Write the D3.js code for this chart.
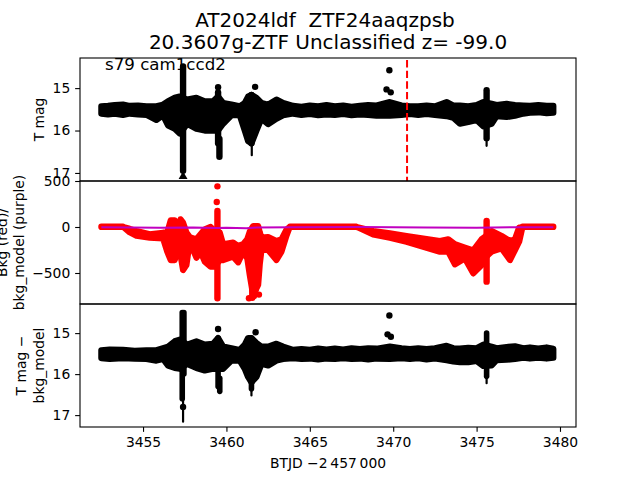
<!DOCTYPE html>
<html><head><meta charset="utf-8">
<script src="https://cdn.jsdelivr.net/npm/d3@7"></script>
<style>
html,body{margin:0;padding:0;background:#fff}
svg{display:block}
text{font-family:"DejaVu Sans",sans-serif;fill:#000;white-space:pre}
</style></head><body><div id="c"></div>
<script>
// ---- top panel: T mag
const magTimes=[3452.5,3452.9,3453.3,3453.8,3454.2,3454.7,3455.2,3455.8,3456.2,3456.5,3456.9,3457.2,3457.65,3458.2,3458.7,3459.2,3459.5,3459.8,3460.3,3460.8,3461.1,3461.3,3461.5,3461.8,3462.1,3462.5,3463,3463.4,3464,3464.5,3465,3465.5,3466,3466.5,3467,3467.5,3468,3468.5,3469,3469.8,3470.5,3471,3471.5,3472,3472.5,3473.2,3473.6,3474,3474.5,3475.0,3475.4,3475.9,3476.2,3476.8,3477.3,3477.8,3478.2,3478.7,3479.2,3479.6];
const magHigh=[15.43,15.42,15.40,15.39,15.42,15.41,15.43,15.43,15.39,15.31,15.23,15.20,15.27,15.23,15.31,15.31,15.20,15.35,15.39,15.43,15.35,15.20,15.16,15.23,15.35,15.39,15.27,15.35,15.42,15.44,15.41,15.43,15.40,15.43,15.41,15.44,15.42,15.40,15.41,15.33,15.41,15.43,15.43,15.41,15.43,15.33,15.41,15.41,15.43,15.40,15.33,15.37,15.40,15.37,15.40,15.41,15.42,15.40,15.42,15.42];
const magLow=[15.60,15.62,15.60,15.63,15.60,15.62,15.63,15.75,15.64,15.88,15.96,16.07,15.84,15.96,16.00,16.00,16.00,15.84,15.64,15.64,16.00,16.25,16.30,16.00,15.72,15.85,15.72,15.64,15.60,15.63,15.61,15.64,15.62,15.63,15.61,15.64,15.62,15.63,15.65,15.65,15.63,15.61,15.63,15.61,15.63,15.66,15.70,15.84,15.80,15.75,15.90,15.84,15.66,15.68,15.65,15.60,15.58,15.57,15.59,15.58];
const magSpikeTimes=[3457.4,3459.5,3459.58,3461.5,3475.6];
const magSpikeHigh=[14.49,15.10,16.20,15.16,15.05];
const magSpikeLow=[16.95,16.30,16.62,16.30,16.18];
const magTailTimes=[3457.4,3461.52,3475.6];
const magTailHigh=[16.6,16.2,16.1];
const magTailLow=[17.0,16.58,16.36];
const magDotTimes=[3459.5,3461.72,3469.77,3469.6,3469.85];
const magDotValues=[14.98,14.97,14.58,15.03,15.10];
const limitTimes=[3457.4];
const limitValues=[17.08];
const markerTime=[3470.83];
const markerRange=[14.34,17.19];

// ---- middle panel: background
const bkgTimes=[3452.5,3453.8,3454.2,3454.6,3455.4,3456.2,3456.45,3456.66,3456.9,3457.1,3457.25,3457.4,3457.6,3457.8,3458.2,3458.45,3458.7,3459.05,3459.3,3459.6,3459.8,3460.4,3460.7,3461,3461.25,3461.4,3461.6,3461.9,3462.0,3462.1,3462.5,3463,3463.3,3463.6,3463.8,3466.8,3467.8,3468.8,3469.8,3470.8,3472,3472.8,3473.3,3473.7,3474.3,3474.8,3475.3,3475.55,3475.7,3475.9,3476.5,3477,3477.3,3477.55,3477.75,3479.6];
const bkgHigh=[0,0,-20,-43,-80,-62,-60,72,72,-25,83,47,-60,-110,-134,-80,-25,0,-43,-60,-188,-170,-207,-188,-134,-50,11,11,-60,-116,-109,-152,-134,-30,0,0,0,-43,-70,-98,-130,-152,-134,-188,-225,-254,-134,-100,-60,-43,-98,-152,-134,-5,0,0];
const bkgLow=[3,3,-58,-94,-116,-123,-268,-359,-359,-214,-304,-467,-413,-160,-333,-268,-377,-431,-431,-359,-359,-322,-384,-268,-340,-522,-739,-630,-400,-250,-250,-359,-268,-94,3,3,3,-80,-116,-160,-225,-268,-268,-406,-341,-504,-413,-330,-300,-268,-232,-359,-250,-160,3,3];
const bkgSpikeTimes=[3459.46,3461.55,3461.75,3475.6];
const bkgSpikeHigh=[174,-400,-400,65];
const bkgSpikeLow=[-775,-770,-680,-594];
const bkgDotTimes=[3459.46,3459.42,3461.35,3461.65,3461.95];
const bkgDotValues=[442,272,-775,-750,-735];
const modelTimes=[3452.5,3456,3458,3459.4,3460,3461.2,3461.8,3464,3468,3472,3475,3477,3479.6];
const modelValues=[-2,-8,-5,-10,-8,-14,-6,-2,-1,-5,-8,-2,-2];

// ---- bottom panel: detrended magnitude
const detTimes=[3452.5,3453,3453.8,3454.5,3455.2,3455.8,3456.2,3456.5,3456.9,3457.2,3457.65,3458.2,3458.7,3459.2,3459.5,3459.8,3460.3,3460.8,3461.1,3461.3,3461.5,3461.8,3462.1,3462.5,3463,3463.4,3464,3464.5,3465,3465.5,3466,3466.5,3467,3467.5,3468,3468.5,3469,3469.8,3470.5,3471,3471.5,3472,3472.5,3473.2,3473.6,3474,3474.5,3475,3475.4,3475.9,3476.2,3476.8,3477.3,3477.8,3478.2,3478.7,3479.2,3479.6];
const detHigh=[15.42,15.40,15.41,15.43,15.42,15.42,15.37,15.33,15.20,15.16,15.28,15.20,15.28,15.26,15.12,15.33,15.37,15.41,15.28,15.12,15.12,15.24,15.33,15.33,15.26,15.33,15.41,15.39,15.41,15.38,15.40,15.38,15.40,15.37,15.39,15.37,15.38,15.33,15.37,15.39,15.37,15.39,15.37,15.31,15.37,15.38,15.36,15.37,15.28,15.33,15.37,15.34,15.32,15.37,15.35,15.38,15.35,15.38];
const detLow=[15.61,15.63,15.61,15.62,15.63,15.67,15.63,15.79,15.85,15.87,15.75,15.85,15.91,15.87,15.87,15.87,15.67,15.67,15.87,16.07,16.20,16.07,15.75,15.79,15.67,15.63,15.61,15.63,15.62,15.64,15.62,15.63,15.61,15.63,15.62,15.64,15.62,15.63,15.61,15.63,15.61,15.64,15.62,15.66,15.69,15.71,15.71,15.68,15.80,15.79,15.66,15.65,15.63,15.60,15.62,15.60,15.62,15.60];
const detSpikeTimes=[3457.35,3457.45,3459.5,3459.6,3461.5,3475.6];
const detSpikeHigh=[14.50,14.50,15.12,16.1,15.12,15.0];
const detSpikeLow=[16.60,16.0,16.30,16.42,16.36,16.05];
const detTailTimes=[3457.4,3461.5,3475.6];
const detTailHigh=[16.5,16.2,16.0];
const detTailLow=[17.16,16.52,16.22];
const detDotTimes=[3459.5,3461.75,3469.77,3469.66,3469.86,3457.4];
const detDotValues=[14.90,14.98,14.57,15.03,15.09,16.8];

// ---- axes and text
const xDomain=[3451.22,3480.96];
const xTicks=[3455,3460,3465,3470,3475,3480];
const magDomain=[14.29,17.19], magTicks=[15,16,17];
const bkgDomain=[500,-837], bkgTicks=[500,0,-500];
const detDomain=[14.29,17.29], detTicks=[15,16,17];
const titleLines=["AT2024ldf  ZTF24aaqzpsb","20.3607g-ZTF Unclassified z= -99.0"];
const note="s79 cam1ccd2";
const xLabel="BTJD \u22122\u2009457\u2009000";
const magLabel=["T mag"];
const bkgLabel=["Bkg (red)/","bkg_model (purple)"];
const detLabel=["T mag \u2212","bkg_model"];

const svg=d3.select("#c").append("svg").attr("width",640).attr("height",480);
const L=80,R=576;
const x=d3.scaleLinear().domain(xDomain).range([L,R]);
const panels=[{top:58,bot:181,dom:magDomain},{top:181,bot:304,dom:bkgDomain},{top:304,bot:427,dom:detDomain}];
panels.forEach(p=>p.y=d3.scaleLinear().domain(p.dom).range([p.top,p.bot]));
const defs=svg.append("defs");
panels.forEach((p,i)=>defs.append("clipPath").attr("id","cp"+i).append("rect").attr("x",L).attr("y",p.top).attr("width",R-L).attr("height",p.bot-p.top));

function band(i,ts,hi,lo,color){
  const g=svg.append("g").attr("clip-path",`url(#cp${i})`),y=panels[i].y;
  const area=d3.area().x(d=>x(ts[d])).y0(d=>y(lo[d])).y1(d=>y(hi[d]));
  g.append("path").attr("d",area(d3.range(ts.length))).attr("fill",color).attr("stroke",color).attr("stroke-width",6.2).attr("stroke-linejoin","round");
  return g;
}
function columns(g,i,ts,hi,lo,color,w){
  const y=panels[i].y;
  g.selectAll(null).data(ts).enter().append("line")
    .attr("x1",d=>x(d)).attr("x2",d=>x(d))
    .attr("y1",(d,k)=>y(hi[k])).attr("y2",(d,k)=>y(lo[k]))
    .attr("stroke",color).attr("stroke-width",w).attr("stroke-linecap","round");
}
function dots(g,i,ts,vs,color){
  const y=panels[i].y;
  g.selectAll(null).data(ts).enter().append("circle")
    .attr("cx",d=>x(d)).attr("cy",(d,k)=>y(vs[k])).attr("r",3.2).attr("fill",color);
}

const g0=band(0,magTimes,magHigh,magLow,"#000");
columns(g0,0,magSpikeTimes,magSpikeHigh,magSpikeLow,"#000",6.4);
columns(g0,0,magTailTimes,magTailHigh,magTailLow,"#000",2.2);
dots(g0,0,magDotTimes,magDotValues,"#000");
g0.selectAll(null).data(limitTimes).enter().append("path")
  .attr("d",d3.symbol(d3.symbolTriangle,34))
  .attr("transform",(d,k)=>`translate(${x(d)},${panels[0].y(limitValues[k])})`).attr("fill","#000");
g0.selectAll(null).data(markerTime).enter().append("line")
  .attr("x1",d=>x(d)).attr("x2",d=>x(d))
  .attr("y1",panels[0].y(markerRange[0])).attr("y2",panels[0].y(markerRange[1]))
  .attr("stroke","#f00").attr("stroke-width",2).attr("stroke-dasharray","7.4 3.2");

const g1=band(1,bkgTimes,bkgHigh,bkgLow,"#f00");
columns(g1,1,bkgSpikeTimes,bkgSpikeHigh,bkgSpikeLow,"#f00",6.4);
dots(g1,1,bkgDotTimes,bkgDotValues,"#f00");
g1.append("path").attr("d",d3.line().x((d,k)=>x(modelTimes[k])).y(d=>panels[1].y(d))(modelValues))
  .attr("fill","none").attr("stroke","#c000c0").attr("stroke-width",2);

const g2=band(2,detTimes,detHigh,detLow,"#000");
columns(g2,2,detSpikeTimes,detSpikeHigh,detSpikeLow,"#000",5.6);
columns(g2,2,detTailTimes,detTailHigh,detTailLow,"#000",2.2);
dots(g2,2,detDotTimes,detDotValues,"#000");

const fmt=d=>String(d).replace("-","\u2212");
function yaxis(i,ticks){
  const g=svg.append("g").attr("transform",`translate(${L},0)`)
    .call(d3.axisLeft(panels[i].y).tickValues(ticks).tickFormat(fmt).tickSize(4.86).tickPadding(4.9));
  g.select(".domain").remove();
  g.selectAll("line").attr("stroke","#000").attr("stroke-width",1.1);
  g.selectAll("text").attr("font-size",13.89).attr("font-family",'"DejaVu Sans"');
}
yaxis(0,magTicks);yaxis(1,bkgTicks);yaxis(2,detTicks);
const xa=svg.append("g").attr("transform",`translate(0,427)`)
  .call(d3.axisBottom(x).tickValues(xTicks).tickFormat(d3.format("d")).tickSize(4.86).tickPadding(4.9));
xa.select(".domain").remove();
xa.selectAll("line").attr("stroke","#000").attr("stroke-width",1.1);
xa.selectAll("text").attr("font-size",13.89).attr("font-family",'"DejaVu Sans"');

panels.forEach(p=>svg.append("rect").attr("x",L).attr("y",p.top).attr("width",R-L).attr("height",p.bot-p.top)
  .attr("fill","none").attr("stroke","#000").attr("stroke-width",1.1));

titleLines.forEach((t,i)=>svg.append("text").attr("x",[325,328][i]).attr("y",[27,49][i]).attr("text-anchor","middle").attr("font-size",20).text(t));
svg.append("text").attr("x",105).attr("y",70).attr("font-size",16.67).text(note);
svg.append("text").attr("x",328).attr("y",468).attr("text-anchor","middle").attr("font-size",13.89).text(xLabel);

function ylabel(lines,cy,xs){
  lines.forEach((t,i)=>svg.append("text").attr("transform",`translate(${xs[i]},${cy}) rotate(-90)`)
    .attr("text-anchor","middle").attr("font-size",13.89).text(t));
}
ylabel(magLabel,119.5,[43.5]);
ylabel(bkgLabel,242.5,[7,23.5]);
ylabel(detLabel,365.5,[25.5,43.5]);
</script></body></html>
